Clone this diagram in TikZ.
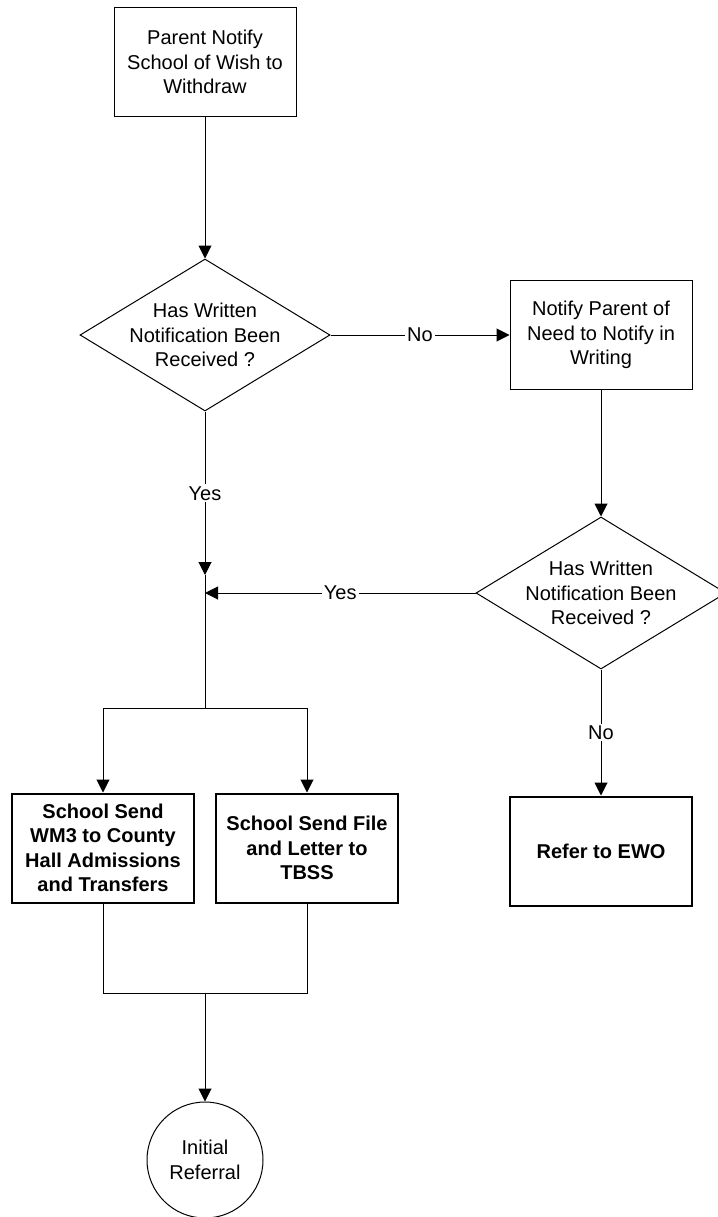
\documentclass[tikz,border=0pt]{standalone}
\usepackage{fontspec}
\setmainfont{Liberation Sans}
\usetikzlibrary{shapes.geometric,arrows.meta}
\newcommand{\widthbox}{182pt}
\newcommand{\heightbox}{109pt}
\newcommand{\flowfont}{\fontsize{20}{24.5}\selectfont}
\tikzset{
    common/.style={align=center, font=\flowfont},
    process/.style={common, draw, rectangle, minimum width=\widthbox, minimum height=\heightbox, line width=1pt},
    action/.style={process, font=\flowfont\bfseries, line width=2pt},
    decision/.style={draw, diamond, minimum width=250pt, minimum height=152pt, inner sep=0pt, line width=1pt},
    question/.style={common, inner sep=0pt},
    terminal/.style={common, draw, circle, minimum size=116pt, inner sep=0pt, line width=1pt},
    flow/.style={-{Triangle[length=13pt,width=13pt]}, line width=1pt},
    link/.style={line width=1pt},
    answer/.style={common, fill=white, inner sep=2pt}
}
\begin{document}
\begin{tikzpicture}[x=1pt, y=-1pt]
    \useasboundingbox (0,0) rectangle (717,1217);

    % shapes
    \node[process] (notify) at (205,62) {Parent Notify\\School of Wish to\\Withdraw};
    \node[decision, label={[question]center:{Has Written\\Notification Been\\Received ?}}] (written) at (205,335) {};
    \node[process] (remind) at (601,335) {Notify Parent of\\Need to Notify in\\Writing};
    \node[decision, label={[question]center:{Has Written\\Notification Been\\Received ?}}] (again) at (601,593) {};
    \node[action] (wmthree) at (103,848) {School Send\\WM3 to County\\Hall Admissions\\and Transfers};
    \node[action] (tbss) at (307,848) {School Send File\\and Letter to\\TBSS};
    \node[action] (ewo) at (601,851) {Refer to EWO};
    \node[terminal] (referral) at (205,1160) {Initial\\Referral};

    \coordinate (yesend) at (205,575);
    \coordinate (merge) at (205,593);
    \coordinate (split) at (205,708);
    \coordinate (join) at (205,993);

    % connectors
    \draw[flow] (notify.south) -- (written.north);
    \draw[flow] (written.east) -- node[answer] {No} (remind.west);
    \draw[flow] (remind.south) -- (again.north);
    \draw[flow] (written.south) -- node[answer] {Yes} (yesend);
    \draw[link] (yesend) -- (split);
    \draw[flow] (again.west) -- node[answer] {Yes} (merge);
    \draw[flow] (again.south) -- node[answer] {No} (ewo.north);
    \draw[flow] (split) -| (wmthree.north);
    \draw[flow] (split) -| (tbss.north);
    \draw[link] (wmthree.south) |- (join) -| (tbss.south);
    \draw[flow] (join) -- (referral.north);
\end{tikzpicture}
\end{document}
